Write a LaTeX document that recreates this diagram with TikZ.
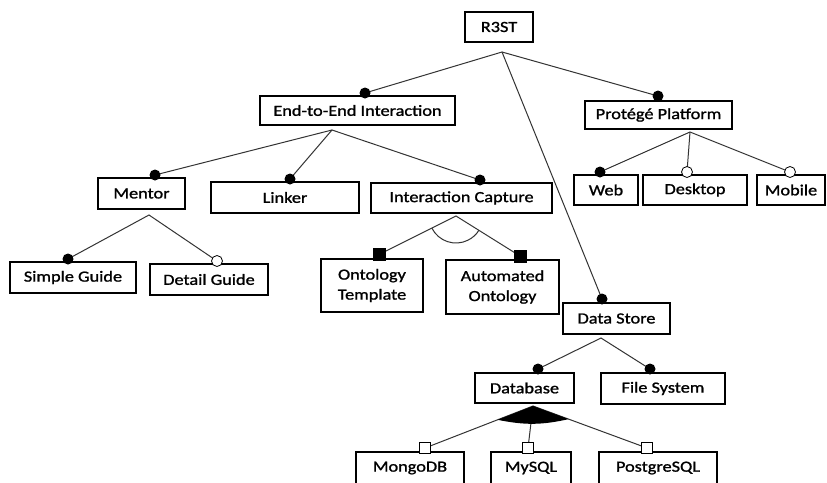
\documentclass[tikz,border=0pt]{standalone}
\usepackage{fontspec}
\setmainfont[FakeStretch=1.18,FakeBold=1.2]{Carlito}
\begin{document}
\begin{tikzpicture}[x=1pt,y=1pt,
  box/.style={draw, line width=1.1pt, fill=white, inner sep=0pt,
    font=\fontsize{15.5}{20}\selectfont, align=center},
  conn/.style={line width=1pt, draw=black!80},
  fdot/.style={circle, fill=black, inner sep=0pt, minimum size=11pt},
  hdot/.style={circle, draw, line width=0.8pt, fill=white, inner sep=0pt, minimum size=11pt},
  fsq/.style={rectangle, fill=black, inner sep=0pt, minimum size=13pt},
  hsq/.style={rectangle, draw, line width=0.8pt, fill=white, inner sep=0pt, minimum size=11pt}]
\useasboundingbox (0,0) rectangle (827,-482);
\fill[white] (0,0) rectangle (827,-482);

% fork coordinates
\coordinate (rf) at (502,-52);
\coordinate (ef) at (332,-130);
\coordinate (pf) at (690,-132);
\coordinate (mf) at (149,-215);
\coordinate (icf) at (456,-216);
\coordinate (dsf) at (601,-338);
\coordinate (dbf) at (533,-406);

% boxes
\node[box, minimum width=68pt, minimum height=30pt] (r3st) at (499,-27) {R3ST};
\node[box, minimum width=195pt, minimum height=29pt] (e2e) at (357.5,-110.5) {End-to-End Interaction};
\node[box, minimum width=147pt, minimum height=28pt] (prot) at (658.5,-115) {Protégé Platform};
\node[box, minimum width=87pt, minimum height=31pt] (mentor) at (141.5,-193.5) {Mentor};
\node[box, minimum width=148pt, minimum height=31pt] (linker) at (285,-197.5) {Linker};
\node[box, minimum width=181pt, minimum height=30pt] (ic) at (461.5,-198) {Interaction Capture};
\node[box, minimum width=126pt, minimum height=31pt] (sg) at (73,-277.5) {Simple Guide};
\node[box, minimum width=118pt, minimum height=31pt] (dg) at (209,-279.5) {Detail Guide};
\node[box, minimum width=102pt, minimum height=53pt] (ot) at (372,-285.5) {Ontology\\Template};
\node[box, minimum width=113pt, minimum height=54pt] (ao) at (502.5,-287) {Automated\\Ontology};
\node[box, minimum width=64pt, minimum height=30pt] (web) at (606,-190) {Web};
\node[box, minimum width=104pt, minimum height=30pt] (desk) at (695,-190) {Desktop};
\node[box, minimum width=68pt, minimum height=30pt] (mob) at (791,-190) {Mobile};
\node[box, minimum width=107pt, minimum height=31pt] (ds) at (616.5,-318.5) {Data Store};
\node[box, minimum width=99pt, minimum height=30pt] (db) at (524.5,-388) {Database};
\node[box, minimum width=124pt, minimum height=31pt] (fs) at (663,-388.5) {File System};
\node[box, minimum width=108pt, minimum height=32pt] (mongo) at (410,-468) {MongoDB};
\node[box, minimum width=80pt, minimum height=32pt] (mysql) at (531,-468) {MySQL};
\node[box, minimum width=118pt, minimum height=32pt] (pg) at (658,-468) {PostgreSQL};

% connector end markers (positions)
\coordinate (e2eD) at (365,-93);
\coordinate (protD) at (658,-96);
\coordinate (mentorD) at (155,-175);
\coordinate (linkerD) at (290,-179);
\coordinate (icD) at (480,-180);
\coordinate (sgD) at (68,-259);
\coordinate (dgD) at (217,-261);
\coordinate (otD) at (379,-254.5);
\coordinate (aoD) at (520,-256);
\coordinate (webD) at (600,-172);
\coordinate (deskD) at (687,-172);
\coordinate (mobD) at (790,-172);
\coordinate (dsD) at (602,-299);
\coordinate (dbD) at (538,-369);
\coordinate (fsD) at (650,-369);
\coordinate (mongoD) at (425,-448);
\coordinate (mysqlD) at (528,-448);
\coordinate (pgD) at (647,-448);

% connectors
\draw[conn] (e2eD) -- (rf) -- (protD);
\draw[conn] (rf) -- (dsD);
\draw[conn] (mentorD) -- (ef) -- (icD);
\draw[conn] (ef) -- (linkerD);
\draw[conn] (webD) -- (pf) -- (mobD);
\draw[conn] (pf) -- (deskD);
\draw[conn] (sgD) -- (mf) -- (dgD);
\draw[conn] (otD) -- (icf) -- (aoD);
\draw[conn] ([shift={(206.6:27)}]icf) arc[start angle=206.6, end angle=328, radius=27];
\draw[conn] (dbD) -- (dsf) -- (fsD);
\draw[conn] (mongoD) -- (dbf) -- (pgD);
\draw[conn] (dbf) -- (mysqlD);
\fill (dbf) -- ([shift={(201.3:38)}]dbf) to[bend right=12] ([shift={(339.8:38)}]dbf) -- cycle;

% markers
\node[fdot] (e2eM) at (e2eD) {};
\node[fdot] (protM) at (protD) {};
\node[fdot] (mentorM) at (mentorD) {};
\node[fdot] (linkerM) at (linkerD) {};
\node[fdot] (icM) at (icD) {};
\node[fdot] (sgM) at (sgD) {};
\node[hdot] (dgM) at (dgD) {};
\node[fsq] (otM) at (otD) {};
\node[fsq] (aoM) at (aoD) {};
\node[fdot] (webM) at (webD) {};
\node[hdot] (deskM) at (deskD) {};
\node[hdot] (mobM) at (mobD) {};
\node[fdot] (dsM) at (dsD) {};
\node[fdot] (dbM) at (dbD) {};
\node[fdot] (fsM) at (fsD) {};
\node[hsq] (mongoM) at (mongoD) {};
\node[hsq] (mysqlM) at (mysqlD) {};
\node[hsq] (pgM) at (pgD) {};
\end{tikzpicture}
\end{document}
